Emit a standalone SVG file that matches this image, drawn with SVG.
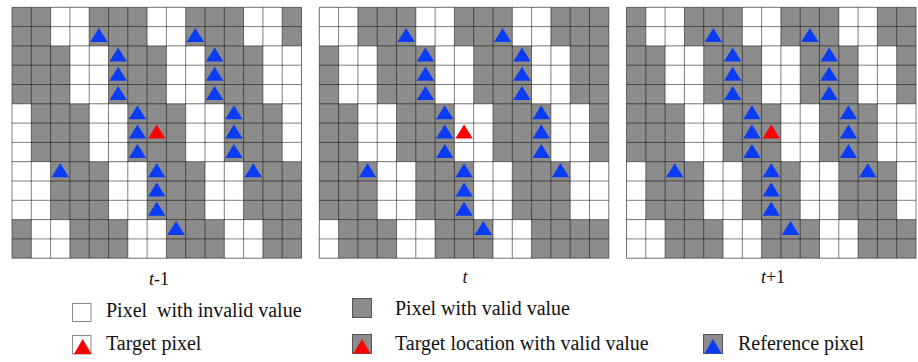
<svg xmlns="http://www.w3.org/2000/svg" xmlns:xlink="http://www.w3.org/1999/xlink" width="918" height="362" viewBox="0 0 918 362">
  <style>
    .bg { fill: #8c8c8c; }
    .w { fill: #ffffff; }
    .lines { fill: none; stroke: #000; stroke-opacity: 0.5; stroke-width: 1; }
    .blue { fill: #0a3cf5; }
    .red { fill: #ff0000; }
    .lbl { font-family: "Liberation Serif", "Times New Roman", serif; font-size: 20px; fill: #111; }
    .cap { font-family: "Liberation Serif", "Times New Roman", serif; font-size: 18px; fill: #111; text-anchor: middle; }
    .it { font-style: italic; }
    .lw { fill: #fff; stroke: #8a8a8a; stroke-width: 1; }
    .lg { fill: #8c8c8c; stroke: #555; stroke-width: 1; }
  </style>
  <defs>
    <rect id="gridbg" x="0" y="0" width="289.5" height="250.9" class="bg"/>
    <path id="gridlines" class="lines" d="M0,0V250.9M19.3,0V250.9M38.6,0V250.9M57.9,0V250.9M77.2,0V250.9M96.5,0V250.9M115.8,0V250.9M135.1,0V250.9M154.4,0V250.9M173.7,0V250.9M193,0V250.9M212.3,0V250.9M231.6,0V250.9M250.9,0V250.9M270.2,0V250.9M289.5,0V250.9M0,0H289.5M0,19.3H289.5M0,38.6H289.5M0,57.9H289.5M0,77.2H289.5M0,96.5H289.5M0,115.8H289.5M0,135.1H289.5M0,154.4H289.5M0,173.7H289.5M0,193H289.5M0,212.3H289.5M0,231.6H289.5M0,250.9H289.5"/>
    <path id="tri" d="M0,-7L8.7,7L-8.7,7Z"/>
    <g id="refs" class="blue">
      <use xlink:href="#tri" x="86.85" y="27.8"/>
      <use xlink:href="#tri" x="183.35" y="27.8"/>
      <use xlink:href="#tri" x="106.15" y="47.1"/>
      <use xlink:href="#tri" x="202.65" y="47.1"/>
      <use xlink:href="#tri" x="106.15" y="66.4"/>
      <use xlink:href="#tri" x="202.65" y="66.4"/>
      <use xlink:href="#tri" x="106.15" y="85.7"/>
      <use xlink:href="#tri" x="202.65" y="85.7"/>
      <use xlink:href="#tri" x="125.45" y="105"/>
      <use xlink:href="#tri" x="221.95" y="105"/>
      <use xlink:href="#tri" x="125.45" y="124.3"/>
      <use xlink:href="#tri" x="221.95" y="124.3"/>
      <use xlink:href="#tri" x="125.45" y="143.6"/>
      <use xlink:href="#tri" x="221.95" y="143.6"/>
      <use xlink:href="#tri" x="48.25" y="162.9"/>
      <use xlink:href="#tri" x="144.75" y="162.9"/>
      <use xlink:href="#tri" x="241.25" y="162.9"/>
      <use xlink:href="#tri" x="144.75" y="182.2"/>
      <use xlink:href="#tri" x="144.75" y="201.5"/>
      <use xlink:href="#tri" x="164.05" y="220.8"/>
    </g>
  </defs>

  <g id="grid-t-minus-1" transform="translate(12,7.3)">
    <use xlink:href="#gridbg"/>
    <g class="w">
      <rect x="38.6" y="0" width="38.6" height="38.6"/>
      <rect x="135.1" y="0" width="38.6" height="38.6"/>
      <rect x="231.6" y="0" width="38.6" height="38.6"/>
      <rect x="57.9" y="38.6" width="38.6" height="57.9"/>
      <rect x="154.4" y="38.6" width="38.6" height="57.9"/>
      <rect x="250.9" y="38.6" width="38.6" height="57.9"/>
      <rect x="0" y="96.5" width="19.3" height="57.9"/>
      <rect x="77.2" y="96.5" width="38.6" height="57.9"/>
      <rect x="173.7" y="96.5" width="38.6" height="57.9"/>
      <rect x="270.2" y="96.5" width="19.3" height="57.9"/>
      <rect x="0" y="154.4" width="38.6" height="57.9"/>
      <rect x="96.5" y="154.4" width="38.6" height="57.9"/>
      <rect x="193" y="154.4" width="38.6" height="57.9"/>
      <rect x="19.3" y="212.3" width="38.6" height="38.6"/>
      <rect x="115.8" y="212.3" width="38.6" height="38.6"/>
      <rect x="212.3" y="212.3" width="38.6" height="38.6"/>
    </g>
    <use xlink:href="#gridlines"/>
    <use xlink:href="#refs"/>
    <use xlink:href="#tri" x="144.75" y="124.3" class="red"/>
  </g>

  <g id="grid-t" transform="translate(319.3,7.3)">
    <use xlink:href="#gridbg"/>
    <g class="w">
      <rect x="0" y="0" width="38.6" height="38.6"/>
      <rect x="96.5" y="0" width="38.6" height="38.6"/>
      <rect x="193" y="0" width="38.6" height="38.6"/>
      <rect x="19.3" y="38.6" width="38.6" height="57.9"/>
      <rect x="115.8" y="38.6" width="38.6" height="57.9"/>
      <rect x="212.3" y="38.6" width="38.6" height="57.9"/>
      <rect x="38.6" y="96.5" width="38.6" height="57.9"/>
      <rect x="135.1" y="96.5" width="38.6" height="57.9"/>
      <rect x="231.6" y="96.5" width="38.6" height="57.9"/>
      <rect x="57.9" y="154.4" width="38.6" height="57.9"/>
      <rect x="154.4" y="154.4" width="38.6" height="57.9"/>
      <rect x="250.9" y="154.4" width="38.6" height="57.9"/>
      <rect x="0" y="212.3" width="19.3" height="38.6"/>
      <rect x="77.2" y="212.3" width="38.6" height="38.6"/>
      <rect x="173.7" y="212.3" width="38.6" height="38.6"/>
    </g>
    <use xlink:href="#gridlines"/>
    <use xlink:href="#refs"/>
    <use xlink:href="#tri" x="144.75" y="124.3" class="red"/>
  </g>

  <g id="grid-t-plus-1" transform="translate(626.5,7.3)">
    <use xlink:href="#gridbg"/>
    <g class="w">
      <rect x="19.3" y="0" width="38.6" height="38.6"/>
      <rect x="115.8" y="0" width="38.6" height="38.6"/>
      <rect x="212.3" y="0" width="38.6" height="38.6"/>
      <rect x="38.6" y="38.6" width="38.6" height="57.9"/>
      <rect x="135.1" y="38.6" width="38.6" height="57.9"/>
      <rect x="231.6" y="38.6" width="38.6" height="57.9"/>
      <rect x="57.9" y="96.5" width="38.6" height="57.9"/>
      <rect x="154.4" y="96.5" width="38.6" height="57.9"/>
      <rect x="250.9" y="96.5" width="38.6" height="57.9"/>
      <rect x="0" y="154.4" width="19.3" height="57.9"/>
      <rect x="77.2" y="154.4" width="38.6" height="57.9"/>
      <rect x="173.7" y="154.4" width="38.6" height="57.9"/>
      <rect x="270.2" y="154.4" width="19.3" height="57.9"/>
      <rect x="0" y="212.3" width="38.6" height="38.6"/>
      <rect x="96.5" y="212.3" width="38.6" height="38.6"/>
      <rect x="193" y="212.3" width="38.6" height="38.6"/>
    </g>
    <use xlink:href="#gridlines"/>
    <use xlink:href="#refs"/>
    <use xlink:href="#tri" x="144.75" y="124.3" class="red"/>
  </g>

  <g id="captions">
    <text class="cap" x="159" y="285"><tspan class="it">t</tspan>-1</text>
    <text class="cap" x="465" y="283"><tspan class="it">t</tspan></text>
    <text class="cap" x="773" y="283"><tspan class="it">t</tspan>+1</text>
  </g>

  <g id="legend-invalid">
    <rect class="lw" x="72.5" y="303.5" width="18.5" height="18"/>
    <text class="lbl" x="106" y="316.5" xml:space="preserve">Pixel  with invalid value</text>
  </g>
  <g id="legend-valid">
    <rect class="lg" x="352.5" y="298.5" width="19" height="19"/>
    <text class="lbl" x="395" y="315">Pixel with valid value</text>
  </g>
  <g id="legend-target">
    <rect class="lw" x="72.5" y="335.5" width="18.5" height="18.5"/>
    <path class="red" d="M74,354L91.5,354L82.7,339Z"/>
    <text class="lbl" x="106" y="350">Target pixel</text>
  </g>
  <g id="legend-target-valid">
    <rect class="lg" x="352.5" y="334.5" width="19" height="19"/>
    <path class="red" d="M353.5,353.5L370.5,353.5L362,339Z"/>
    <text class="lbl" x="395" y="350">Target location with valid value</text>
  </g>
  <g id="legend-reference">
    <rect class="lg" x="703.5" y="334.5" width="19" height="19"/>
    <path class="blue" d="M704.5,353.5L721.5,353.5L713,339Z"/>
    <text class="lbl" x="738" y="350">Reference pixel</text>
  </g>
</svg>
